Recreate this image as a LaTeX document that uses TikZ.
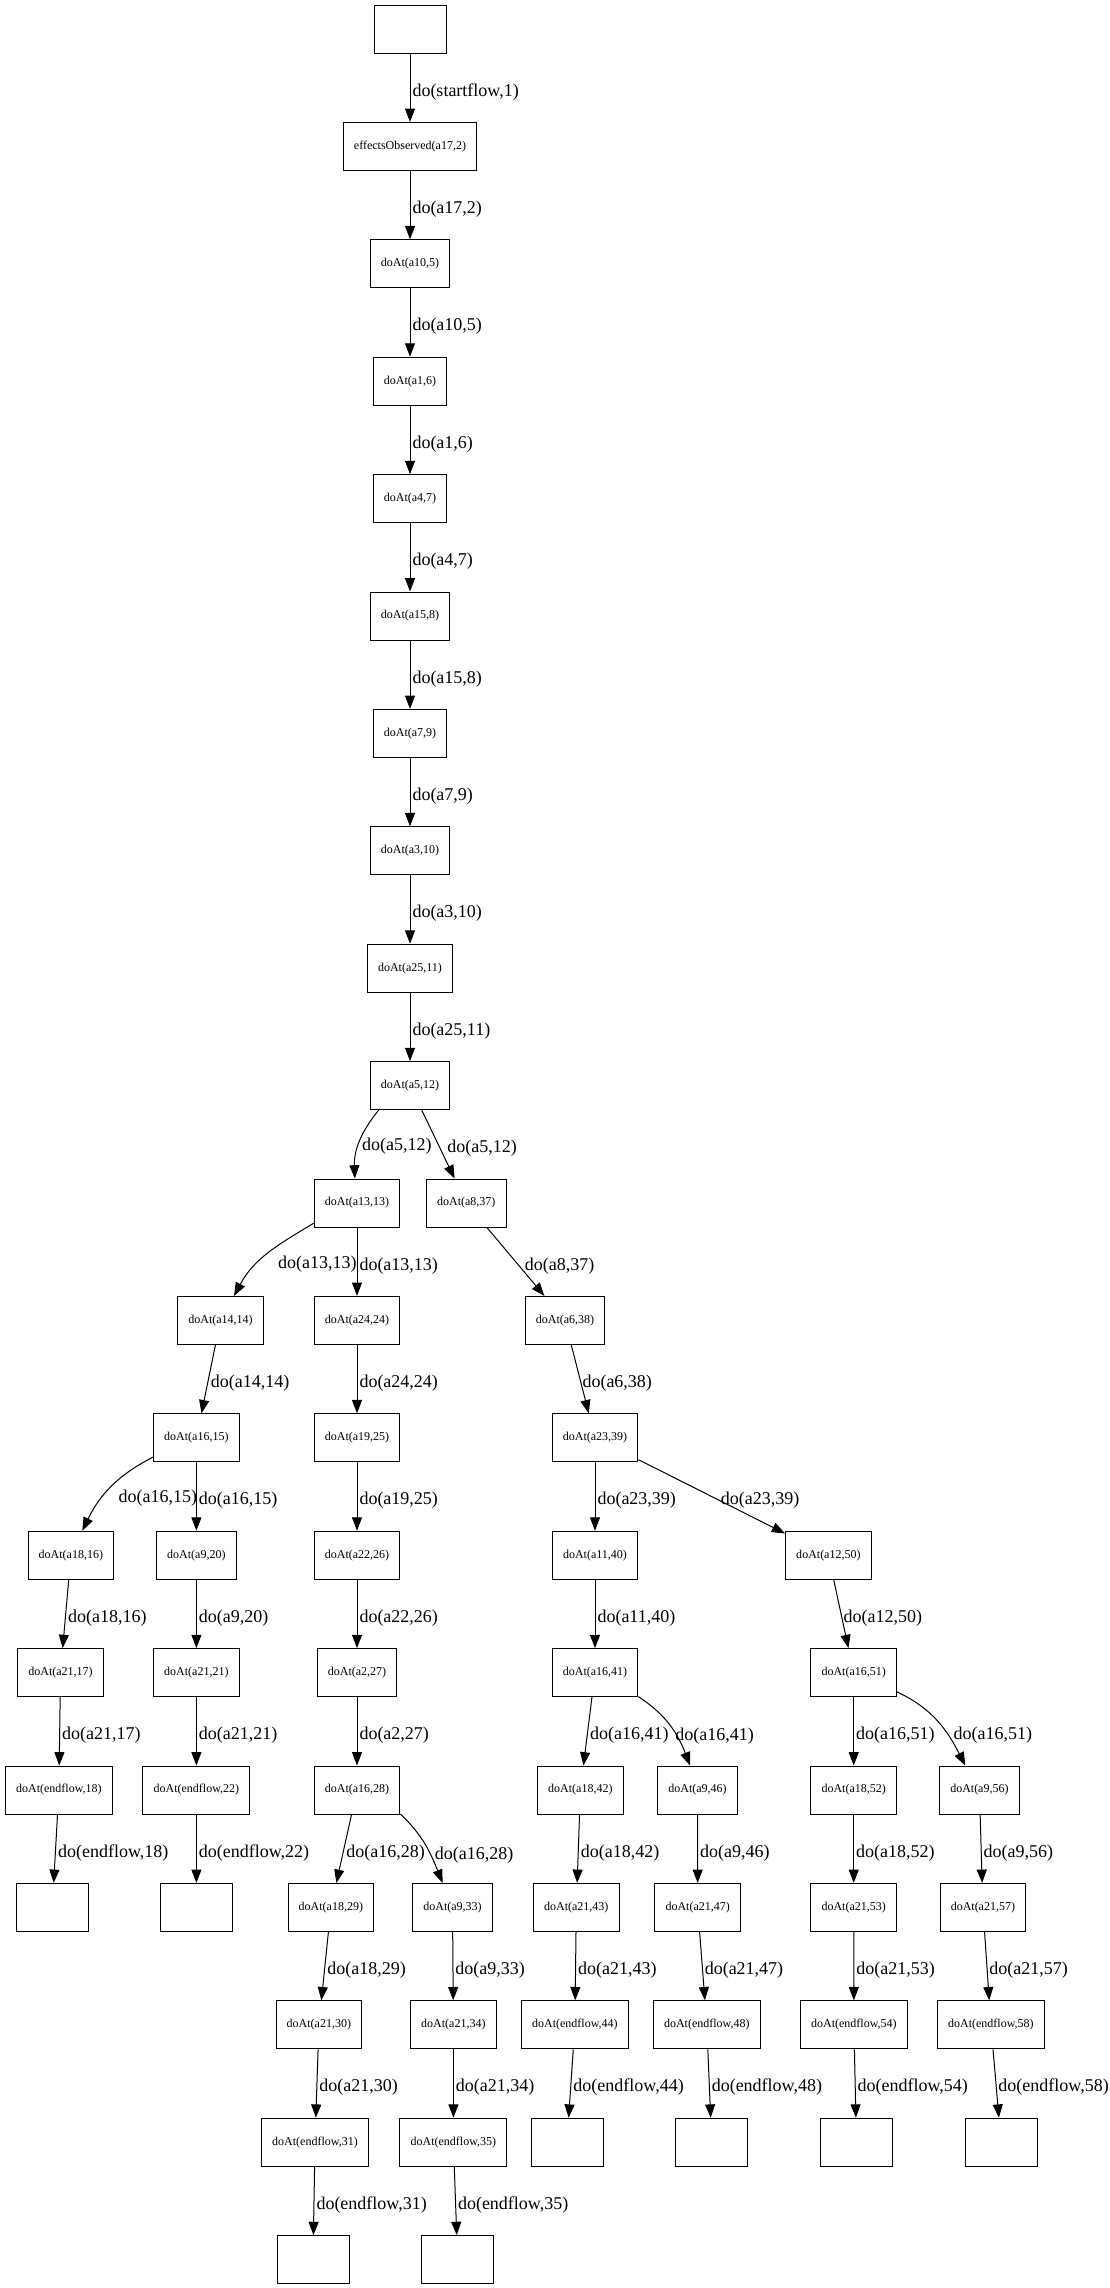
\documentclass[tikz,border=0pt]{standalone}
\usepackage{fontspec}
\setmainfont{Liberation Serif}
\usetikzlibrary{arrows.meta}

\tikzset{
  state/.style={draw, line width=0.75bp, minimum width=54bp, minimum height=36bp,
    inner xsep=8bp, inner ysep=0pt, font=\fontsize{9bp}{10bp}\selectfont},
  flow/.style={line width=0.75bp, -{Triangle[length=10bp,width=7.5bp]}},
  act/.style={right, inner sep=1.5bp, yshift=-3bp, font=\fontsize{13.5bp}{15bp}\selectfont}
}

\begin{document}
\begin{tikzpicture}[x=0.75bp,y=-0.75bp]
\useasboundingbox (0,0) rectangle (1110,2288);

% main trunk
\node[state] (top) at (410,29) {};
\node[state] (d2) at (410,146.4) {effectsObserved(a17,2)};
\node[state] (d5) at (410,263.8) {doAt(a10,5)};
\node[state] (d6) at (410,381.2) {doAt(a1,6)};
\node[state] (d7) at (410,498.6) {doAt(a4,7)};
\node[state] (d8) at (410,616) {doAt(a15,8)};
\node[state] (d9) at (410,733.4) {doAt(a7,9)};
\node[state] (d10) at (410,850.8) {doAt(a3,10)};
\node[state] (d11) at (410,968.2) {doAt(a25,11)};
\node[state] (d12) at (410,1085.6) {doAt(a5,12)};

% left branch
\node[state] (d13) at (357,1203) {doAt(a13,13)};
\node[state] (d14) at (220.5,1320.4) {doAt(a14,14)};
\node[state] (d15) at (196.4,1437.8) {doAt(a16,15)};
\node[state] (d16) at (70.9,1555.2) {doAt(a18,16)};
\node[state] (d17) at (60.5,1672.6) {doAt(a21,17)};
\node[state] (d18) at (58.9,1790) {doAt(endflow,18)};
\node[state] (end18) at (52.3,1907.4) {};
\node[state] (d20) at (196.4,1555.2) {doAt(a9,20)};
\node[state] (d21) at (196.4,1672.6) {doAt(a21,21)};
\node[state] (d22) at (196.4,1790) {doAt(endflow,22)};
\node[state] (end22) at (196.4,1907.4) {};

% middle branch
\node[state] (d24) at (357,1320.4) {doAt(a24,24)};
\node[state] (d25) at (357,1437.8) {doAt(a19,25)};
\node[state] (d26) at (357,1555.2) {doAt(a22,26)};
\node[state] (d27) at (357,1672.6) {doAt(a2,27)};
\node[state] (d28) at (357,1790) {doAt(a16,28)};
\node[state] (d29) at (330.9,1907.4) {doAt(a18,29)};
\node[state] (d30) at (318.9,2024.8) {doAt(a21,30)};
\node[state] (d31) at (315,2142.2) {doAt(endflow,31)};
\node[state] (end31) at (313,2259.6) {};
\node[state] (d33) at (452.5,1907.4) {doAt(a9,33)};
\node[state] (d34) at (453.4,2024.8) {doAt(a21,34)};
\node[state] (d35) at (453.4,2142.2) {doAt(endflow,35)};
\node[state] (end35) at (457.6,2259.6) {};

% right branch
\node[state] (d37) at (466.3,1203) {doAt(a8,37)};
\node[state] (d38) at (565,1320.4) {doAt(a6,38)};
\node[state] (d39) at (595,1437.8) {doAt(a23,39)};
\node[state] (d40) at (595,1555.2) {doAt(a11,40)};
\node[state] (d41) at (595,1672.6) {doAt(a16,41)};
\node[state] (d42) at (580.4,1790) {doAt(a18,42)};
\node[state] (d43) at (576.3,1907.4) {doAt(a21,43)};
\node[state] (d44) at (574.9,2024.8) {doAt(endflow,44)};
\node[state] (end44) at (567,2142.2) {};
\node[state] (d46) at (697.5,1790) {doAt(a9,46)};
\node[state] (d47) at (697.7,1907.4) {doAt(a21,47)};
\node[state] (d48) at (706.8,2024.8) {doAt(endflow,48)};
\node[state] (end48) at (711.7,2142.2) {};
\node[state] (d50) at (828.4,1555.2) {doAt(a12,50)};
\node[state] (d51) at (853.7,1672.6) {doAt(a16,51)};
\node[state] (d52) at (853.7,1790) {doAt(a18,52)};
\node[state] (d53) at (853.7,1907.4) {doAt(a21,53)};
\node[state] (d54) at (853.9,2024.8) {doAt(endflow,54)};
\node[state] (end54) at (856.4,2142.2) {};
\node[state] (d56) at (979.4,1790) {doAt(a9,56)};
\node[state] (d57) at (982.9,1907.4) {doAt(a21,57)};
\node[state] (d58) at (990.9,2024.8) {doAt(endflow,58)};
\node[state] (end58) at (1001,2142.2) {};

% trunk edges
\draw[flow] (top) -- node[act] {do(startflow,1)} (d2);
\draw[flow] (d2) -- node[act] {do(a17,2)} (d5);
\draw[flow] (d5) -- node[act] {do(a10,5)} (d6);
\draw[flow] (d6) -- node[act] {do(a1,6)} (d7);
\draw[flow] (d7) -- node[act] {do(a4,7)} (d8);
\draw[flow] (d8) -- node[act] {do(a15,8)} (d9);
\draw[flow] (d9) -- node[act] {do(a7,9)} (d10);
\draw[flow] (d10) -- node[act] {do(a3,10)} (d11);
\draw[flow] (d11) -- node[act] {do(a25,11)} (d12);
\draw[flow] (d12.218) to[out=-129,in=92] node[act] {do(a5,12)} (d13.95);
\draw[flow] (d12) -- node[act, xshift=5] {do(a5,12)} (d37);

% left branch edges
\draw[flow] (d13.205) to[out=211,in=62] node[act, xshift=6, yshift=-4.5bp] {do(a13,13)} (d14.61);
\draw[flow] (d14) -- node[act] {do(a14,14)} (d15);
\draw[flow] (d15.204) to[out=207,in=64] node[act, xshift=4, yshift=-5bp] {do(a16,15)} (d16.65);
\draw[flow] (d15) -- node[act] {do(a16,15)} (d20);
\draw[flow] (d16) -- node[act] {do(a18,16)} (d17);
\draw[flow] (d17) -- node[act] {do(a21,17)} (d18);
\draw[flow] (d18) -- node[act] {do(endflow,18)} (end18);
\draw[flow] (d20) -- node[act] {do(a9,20)} (d21);
\draw[flow] (d21) -- node[act] {do(a21,21)} (d22);
\draw[flow] (d22) -- node[act] {do(endflow,22)} (end22);

% middle branch edges
\draw[flow] (d13) -- node[act] {do(a13,13)} (d24);
\draw[flow] (d24) -- node[act] {do(a24,24)} (d25);
\draw[flow] (d25) -- node[act] {do(a19,25)} (d26);
\draw[flow] (d26) -- node[act] {do(a22,26)} (d27);
\draw[flow] (d27) -- node[act] {do(a2,27)} (d28);
\draw[flow] (d28) -- node[act] {do(a16,28)} (d29);
\draw[flow] (d28.331) to[out=-43,in=112] node[act, xshift=5, yshift=-4bp] {do(a16,28)} (d33.112);
\draw[flow] (d29) -- node[act] {do(a18,29)} (d30);
\draw[flow] (d30) -- node[act] {do(a21,30)} (d31);
\draw[flow] (d31) -- node[act] {do(endflow,31)} (end31);
\draw[flow] (d33) -- node[act] {do(a9,33)} (d34);
\draw[flow] (d34) -- node[act] {do(a21,34)} (d35);
\draw[flow] (d35) -- node[act] {do(endflow,35)} (end35);

% right branch edges
\draw[flow] (d37) -- node[act, xshift=5] {do(a8,37)} (d38);
\draw[flow] (d38) -- node[act] {do(a6,38)} (d39);
\draw[flow] (d39) -- node[act] {do(a23,39)} (d40);
\draw[flow] (d39) -- node[act, xshift=5] {do(a23,39)} (d50);
\draw[flow] (d40) -- node[act] {do(a11,40)} (d41);
\draw[flow] (d41) -- node[act] {do(a16,41)} (d42);
\draw[flow] (d41.331) to[out=-33,in=111] node[act, xshift=2, yshift=-4.5bp] {do(a16,41)} (d46.107);
\draw[flow] (d42) -- node[act] {do(a18,42)} (d43);
\draw[flow] (d43) -- node[act] {do(a21,43)} (d44);
\draw[flow] (d44) -- node[act] {do(endflow,44)} (end44);
\draw[flow] (d46) -- node[act] {do(a9,46)} (d47);
\draw[flow] (d47) -- node[act] {do(a21,47)} (d48);
\draw[flow] (d48) -- node[act] {do(endflow,48)} (end48);
\draw[flow] (d50) -- node[act] {do(a12,50)} (d51);
\draw[flow] (d51) -- node[act] {do(a16,51)} (d52);
\draw[flow] (d51.336) to[out=-25,in=117] node[act, xshift=10, yshift=-7bp] {do(a16,51)} (d56.120);
\draw[flow] (d52) -- node[act] {do(a18,52)} (d53);
\draw[flow] (d53) -- node[act] {do(a21,53)} (d54);
\draw[flow] (d54) -- node[act] {do(endflow,54)} (end54);
\draw[flow] (d56) -- node[act] {do(a9,56)} (d57);
\draw[flow] (d57) -- node[act] {do(a21,57)} (d58);
\draw[flow] (d58) -- node[act] {do(endflow,58)} (end58);

\end{tikzpicture}
\end{document}
